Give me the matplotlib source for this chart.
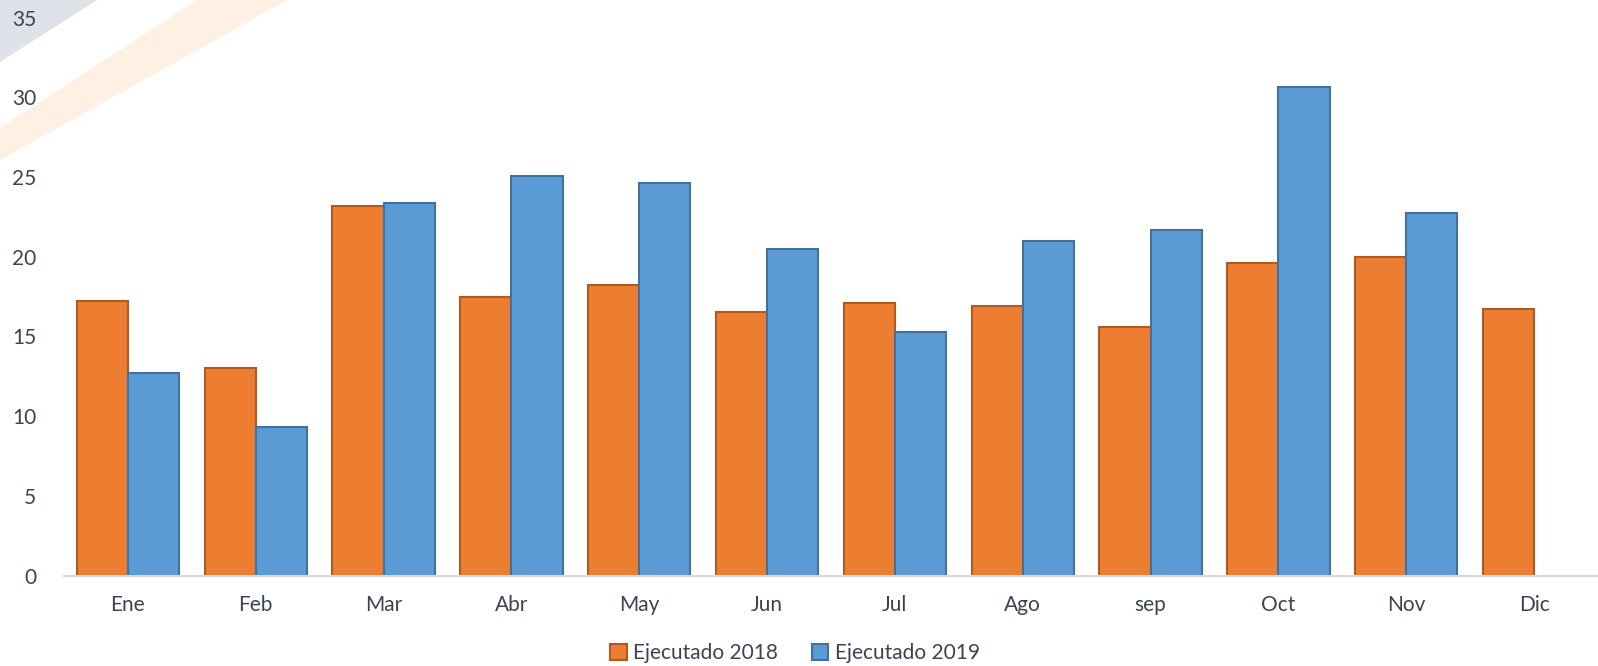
import matplotlib
matplotlib.use("Agg")
import matplotlib.pyplot as plt
import numpy as np
from matplotlib.patches import Polygon, Patch

months = ["Ene", "Feb", "Mar", "Abr", "May", "Jun", "Jul", "Ago", "sep", "Oct", "Nov", "Dic"]
ejecutado_2018 = [17.2, 13.0, 23.2, 17.5, 18.2, 16.5, 17.1, 16.9, 15.6, 19.6, 20.0, 16.7]
ejecutado_2019 = [12.7, 9.3, 23.35, 25.05, 24.6, 20.5, 15.3, 21.0, 21.7, 30.65, 22.75, np.nan]
labels = ["Ejecutado 2018", "Ejecutado 2019"]
yticks = [0, 5, 10, 15, 20, 25, 30, 35]

W, H = 1598, 666
plt.rcParams['font.family'] = ['Lato', 'DejaVu Sans']
fig = plt.figure(figsize=(W / 100, H / 100), dpi=100)

# background decoration
def px(pts):
    return [(x / W, 1 - y / H) for x, y in pts]

fig.patches.append(Polygon(px([(0, 0), (97, 0), (0, 62)]), closed=True,
                           transform=fig.transFigure, facecolor="#dfe2e8", edgecolor="none", zorder=0))
fig.patches.append(Polygon(px([(197, 0), (287, 0), (0, 160), (0, 128)]), closed=True,
                           transform=fig.transFigure, facecolor="#fef0e2", edgecolor="none", zorder=0))

ax = fig.add_axes([64 / W, 90.5 / H, (W - 64) / W, 557.9 / H])
ax.set_zorder(2)
ax.patch.set_alpha(0)

x = np.arange(len(months))
w = 0.4
ax.bar(x - w / 2, ejecutado_2018, w, color="#ED7D31", edgecolor="#AE5A21", linewidth=1.5, label=labels[0], zorder=3)
ax.bar(x + w / 2, ejecutado_2019, w, color="#5B9BD5", edgecolor="#41719C", linewidth=1.5, label=labels[1], zorder=3)

ax.set_xlim(-0.5, len(months) - 0.5)
ax.set_ylim(0, 35)
ax.set_yticks(yticks)
ax.set_xticks(x)
ax.set_xticklabels(months)
txtc = "#3b4453"
ax.tick_params(axis="y", length=0, pad=20, labelsize=15, labelcolor=txtc)
ax.tick_params(axis="x", length=0, pad=14, labelsize=15, labelcolor=txtc)
for s in ["top", "right", "left"]:
    ax.spines[s].set_visible(False)
ax.spines["bottom"].set_color("#d9d9d9")
ax.spines["bottom"].set_linewidth(1.5)
ax.spines["bottom"].set_zorder(4)

handles = [Patch(facecolor="#ED7D31", edgecolor="#AE5A21", linewidth=1.5),
           Patch(facecolor="#5B9BD5", edgecolor="#41719C", linewidth=1.5)]
leg = fig.legend(handles, labels, loc="center", bbox_to_anchor=(795 / W, 1 - 653 / H),
                 ncol=2, frameon=False, fontsize=15, handlelength=0.8, handleheight=0.8,
                 handletextpad=0.3, columnspacing=1.6, labelcolor=txtc)

fig.savefig("out.png", dpi=100)
